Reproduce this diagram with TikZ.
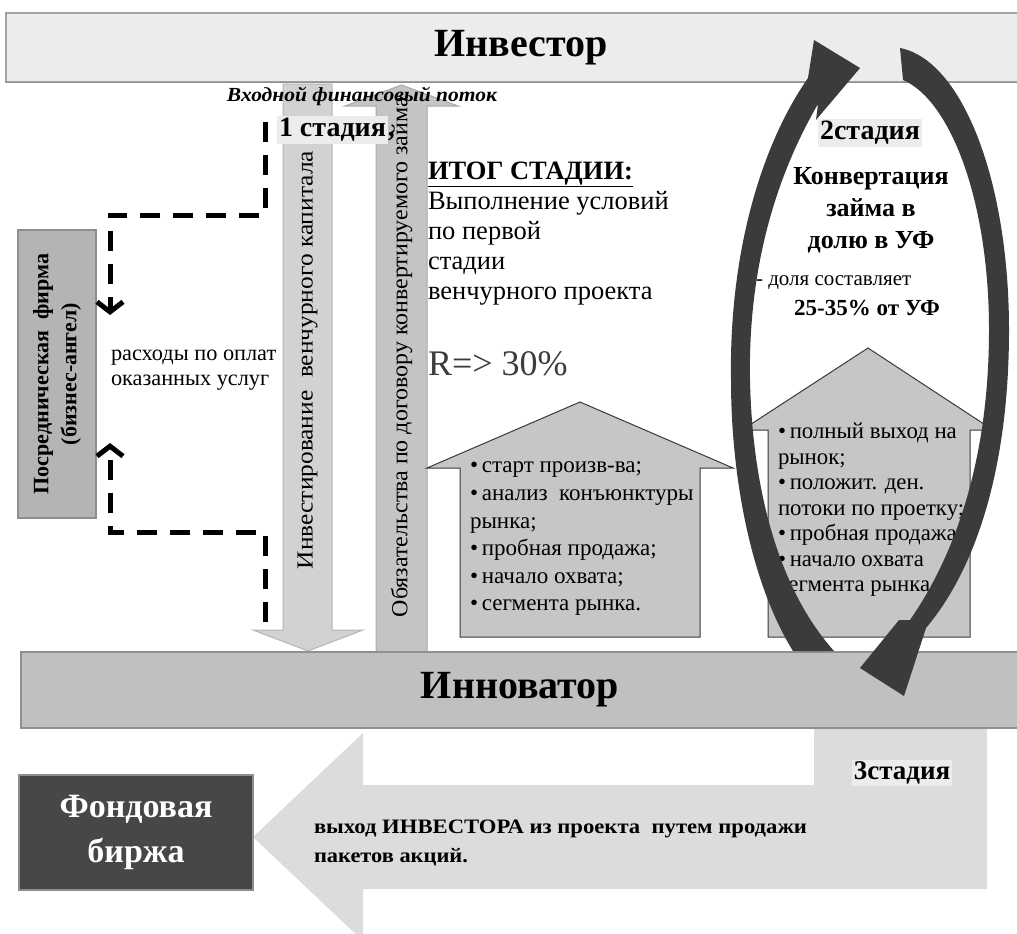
\documentclass[tikz,border=0pt]{standalone}
\usepackage{fontspec}
\usepackage{graphicx}
\setmainfont{Liberation Serif}
\usetikzlibrary{arrows.meta}

\definecolor{barlight}{HTML}{ECECEC}
\definecolor{baredge}{HTML}{A2A2A2}
\definecolor{barmid}{HTML}{C0C0C0}
\definecolor{baredgedark}{HTML}{909090}
\definecolor{flowlight}{HTML}{D2D2D2}
\definecolor{flowlightedge}{HTML}{B6B6B6}
\definecolor{flowmid}{HTML}{C4C4C4}
\definecolor{flowmidedge}{HTML}{A9A9A9}
\definecolor{agentfill}{HTML}{B4B4B4}
\definecolor{agentedge}{HTML}{8E8E8E}
\definecolor{housefill}{HTML}{C6C6C6}
\definecolor{houseedge}{HTML}{3A3A3A}
\definecolor{exitfill}{HTML}{DCDCDC}
\definecolor{fundfill}{HTML}{474747}
\definecolor{loopdark}{HTML}{3B3B3B}
\definecolor{tagbg}{HTML}{ECECEC}
\definecolor{ratetext}{HTML}{3C3C3C}

% scale a one-line text horizontally to a given width, keeping its height
\newcommand{\stretchto}[3]{\resizebox{#1pt}{\height}{\fontsize{#2pt}{#2pt}\selectfont #3}}

\tikzset{
  bigbar/.style={draw=#1, line width=2pt, inner sep=0pt},
  dashpath/.style={line width=5pt, dash pattern=on 20pt off 13pt, black},
  barbtip/.style={-{Straight Barb[length=10pt,width=26pt]}},
  plain/.style={inner sep=0pt, outer sep=0pt},
  tag/.style={fill=tagbg, inner sep=2pt},
}

\begin{document}
\begin{tikzpicture}[x=1pt,y=-1pt]
\useasboundingbox (0,0) rectangle (1017,934);

% exit flow of stage 3 towards the stock exchange
\path[fill=exitfill] (814,720) -- (987,720) -- (987,889) -- (363,889) -- (363,941)
  -- (253,837) -- (363,733) -- (363,785) -- (814,785) -- cycle;

% investor bar
\node[bigbar=baredge, fill=barlight, minimum width=1030pt, minimum height=69pt]
  (investor) at (521,47.5) {\fontsize{40pt}{40pt}\selectfont\bfseries Инвестор};
\draw[baredgedark, line width=1.5pt] (6,82.5) -- (1030,82.5);

% venture capital flowing down
\path[fill=flowlight, draw=flowlightedge, line width=1pt]
  (283,84) -- (332,84) -- (332,630) -- (363,630) -- (308,651) -- (253,630) -- (283,630) -- cycle;
% obligations flowing up
\path[fill=flowmid, draw=flowmidedge, line width=1pt]
  (376,652) -- (376,106) -- (345,106) -- (401.5,85) -- (458,106) -- (427,106) -- (427,652) -- cycle;

\node[plain, rotate=90] (capital) at (307.5,360)
  {\stretchto{418}{23}{Инвестирование\ \ венчурного капитала}};
\node[plain, rotate=90] (duty) at (401.5,357)
  {\stretchto{520}{23}{Обязательства по договору конвертируемого займа}};

\node[plain] (inflow) at (362,96)
  {\stretchto{270}{20}{\bfseries\itshape Входной финансовый поток}};

\node[plain, anchor=west] (stage1) at (277,130)
  {\fontsize{28pt}{28pt}\selectfont\bfseries\setlength{\fboxsep}{2pt}\colorbox{tagbg}{1 стадия},};

% intermediary firm
\node[bigbar=agentedge, fill=agentfill, minimum width=78pt, minimum height=288pt]
  (agent) at (57,374) {};
\node[plain, rotate=90, align=center, font=\fontsize{22pt}{28pt}\selectfont] (agenttext) at (agent.center)
  {\stretchto{241}{22}{\bfseries Посредническая\ \ фирма}\\
   \stretchto{142}{22}{\bfseries (бизнес-ангел)}};

% payment for services, dashed loops
\coordinate (pa) at (265,122);
\coordinate (pb) at (265,215);
\coordinate (pc) at (110,215);
\coordinate (pd) at (110,315);
\draw[dashpath, barbtip] (pa) -- (pb) -- (pc) -- (pd);
\coordinate (qa) at (265,622);
\coordinate (qb) at (265,532);
\coordinate (qc) at (110,532);
\coordinate (qd) at (110,443);
\draw[dashpath, barbtip] (qa) -- (qb) -- (qc) -- (qd);

\begin{scope}
  \clip (100,330) rectangle (276,400);
  \node[plain, anchor=west, align=left, font=\fontsize{22.3pt}{25pt}\selectfont] (costs) at (111,370)
    {расходы по оплате\\оказанных услуг};
\end{scope}

% results of stage 1
\node[plain, anchor=north west, align=left, font=\fontsize{26.5pt}{30pt}\selectfont] (result) at (428,162)
  {\textbf{\underline{ИТОГ СТАДИИ:}}\\Выполнение условий\\по первой\\стадии\\венчурного проекта};
\node[plain, anchor=west, text=ratetext, font=\fontsize{36pt}{36pt}\selectfont] (rate) at (428,364) {R=> 30\%};

% innovator bar
\node[bigbar=baredgedark, fill=barmid, minimum width=998pt, minimum height=76pt]
  (innovator) at (520,690) {\fontsize{40pt}{40pt}\selectfont\bfseries Инноватор};

% stage milestones
\path[fill=housefill, draw=houseedge, line width=1pt]
  (460,637) -- (460,468) -- (427,468) -- (580,402) -- (733,468) -- (700,468) -- (700,637) -- cycle;
\node[plain, anchor=north west, align=left, font=\fontsize{23pt}{27.6pt}\selectfont] (house1) at (470,462)
  {•\,старт произв-ва;\\•\,анализ\ \ конъюнктуры\\рынка;\\•\,пробная продажа;\\•\,начало охвата;\\•\,сегмента рынка.};

\path[fill=housefill, draw=houseedge, line width=1pt]
  (768,637) -- (768,430) -- (742,430) -- (868,348) -- (993,430) -- (970,430) -- (970,637) -- cycle;
\node[plain, anchor=north west, align=left, font=\fontsize{22.8pt}{25.5pt}\selectfont] (house2) at (778,423)
  {•\,полный выход на\\рынок;\\•\,положит. ден.\\потоки по проетку;\\•\,пробная продажа;\\•\,начало охвата\\сегмента рынка.};

% stage 2
\node[tag, font=\fontsize{28pt}{28pt}\selectfont\bfseries] (stage2) at (870,133) {2стадия};
\node[plain, align=center, font=\fontsize{26pt}{32pt}\selectfont\bfseries] (convert) at (871,210)
  {Конвертация\\займа в\\долю в УФ};
\node[plain, anchor=west, font=\fontsize{21pt}{21pt}\selectfont] (share) at (756,283) {- доля составляет};
\node[plain, font=\fontsize{23pt}{23pt}\selectfont\bfseries] (sharev) at (867,308) {25-35\% от УФ};

% stage 3
\node[tag, font=\fontsize{27pt}{27pt}\selectfont\bfseries] (stage3) at (902,773) {3стадия};
\node[plain, anchor=west] (exit1) at (314,829)
  {\stretchto{493}{20.5}{\bfseries выход ИНВЕСТОРА из проекта\ \ путем продажи}};
\node[plain, anchor=west] (exit2) at (314,857)
  {\stretchto{154}{20.5}{\bfseries пакетов акций.}};

% stock exchange
\node[bigbar=agentedge, fill=fundfill, minimum width=234pt, minimum height=115pt,
      text=white, align=center, font=\fontsize{34pt}{45pt}\selectfont\bfseries]
  (fund) at (136,832) {Фондовая\\биржа};

% conversion loop (two curved arrows)
\path[fill=loopdark]
  (793,651) .. controls (752,585) and (731,480) .. (731,380)
  .. controls (729,260) and (758,150) .. (808,78)
  -- (814,40) -- (860,68) -- (816,120) -- (818,104)
  .. controls (775,178) and (748,270) .. (750,380)
  .. controls (752,480) and (775,585) .. (834,651) -- cycle;
\path[fill=loopdark]
  (900,48) .. controls (962,60) and (1009,180) .. (1009,330)
  .. controls (1009,470) and (975,570) .. (926,628)
  -- (904,696) -- (860,668) -- (899,620) -- (910,620)
  .. controls (955,555) and (989,460) .. (989,330)
  .. controls (989,200) and (950,100) .. (903,80) -- cycle;
\end{tikzpicture}
\end{document}
